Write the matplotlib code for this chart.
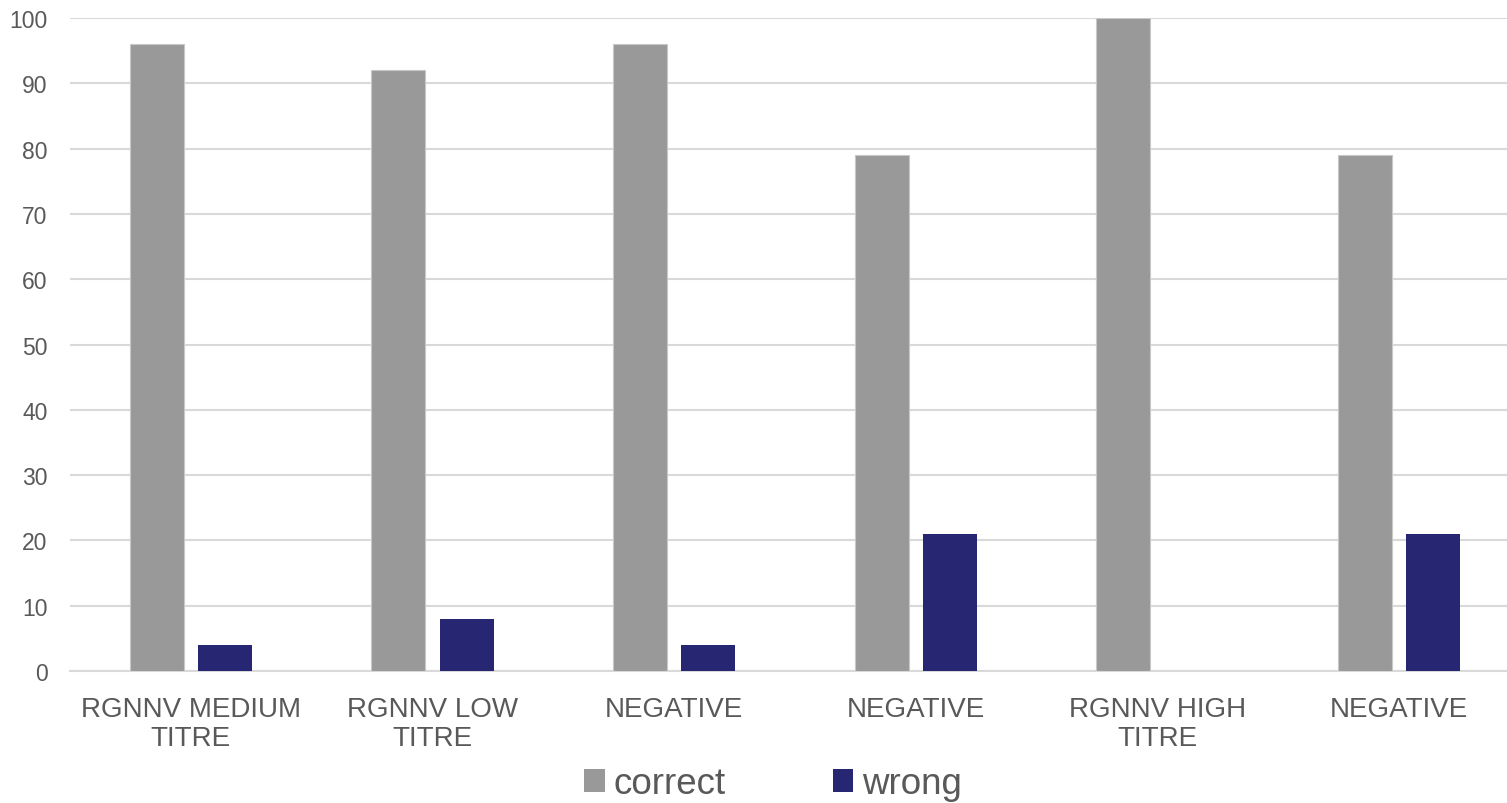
import numpy as np
import matplotlib.pyplot as plt
from matplotlib.patches import Patch

# chart data
categories = ["RGNNV MEDIUM\nTITRE", "RGNNV LOW\nTITRE", "NEGATIVE",
              "NEGATIVE", "RGNNV HIGH\nTITRE", "NEGATIVE"]
correct = [96, 92, 96, 79, 100, 79]
wrong = [4, 8, 4, 21, 0, 21]

plt.rcParams['font.family'] = ['Liberation Sans', 'DejaVu Sans']
text_col = "#595959"
grey = "#999999"
navy = "#262673"

fig = plt.figure(figsize=(15.07, 8.04), dpi=100)
# plot area runs a little past the right edge of the image, as in the original
ax = fig.add_axes([0.0464, 0.1642, 0.9622, 0.812])

x = np.arange(len(categories))
w = 0.2235
off = 0.141
ax.bar(x - off, correct, w, color=grey, edgecolor="#c8c8c8", linewidth=0.8, zorder=3)
ax.bar(x + off, wrong, w, color=navy, linewidth=0, zorder=3)

ax.set_xlim(-0.5, len(categories) - 0.5)
ax.set_ylim(0, 100)
ax.set_yticks(range(0, 101, 10))
ax.set_xticks(x)
ax.set_xticklabels(categories, fontsize=20, color=text_col, linespacing=1.15)
ax.tick_params(axis="y", labelsize=16.5, labelcolor=text_col, length=0, pad=16)
ax.tick_params(axis="x", length=0, pad=18)

ax.grid(axis="y", color="#d9d9d9", linewidth=1.5, zorder=0)
for s in ["top", "right", "left"]:
    ax.spines[s].set_visible(False)
ax.spines["bottom"].set_color("#d9d9d9")
ax.spines["bottom"].set_linewidth(1.5)

handles = [Patch(facecolor=grey, label="correct"), Patch(facecolor=navy, label="wrong")]
fig.legend(handles=handles, loc="center", bbox_to_anchor=(0.513, 1 - 785 / 804),
           ncol=2, frameon=False, fontsize=26.5, labelcolor=text_col,
           handlelength=0.55, handleheight=0.55, handletextpad=0.25,
           columnspacing=2.9, borderpad=0)

fig.savefig("out.png", dpi=100)
